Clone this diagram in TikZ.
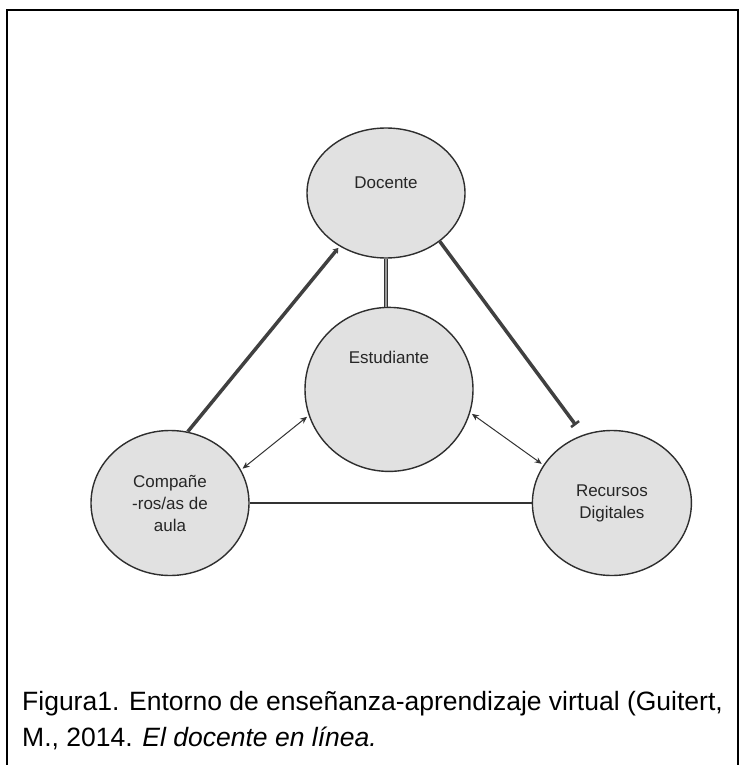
\documentclass[tikz,border=0pt]{standalone}
\usepackage{fontspec}
\setmainfont{Liberation Sans}
\usetikzlibrary{shapes.geometric,arrows.meta,positioning}
\definecolor{circfill}{HTML}{E1E1E1}
\definecolor{circline}{HTML}{2E2E2E}
\tikzset{
  ctbox/.style={ellipse,draw=circline,fill=circfill,line width=1.4pt,
    minimum width=158pt,minimum height=145pt,align=center,
    font=\fontsize{17}{22}\selectfont,text=black!85,inner sep=2pt},
  thickline/.style={line width=3.5pt,draw=black!75},
  dbline/.style={line width=1pt,draw=black!80,double=black!40,double distance=2pt},
  darrow/.style={{Stealth[length=7pt,width=6pt]}-{Stealth[length=7pt,width=6pt]},
    line width=1pt,draw=black!80},
  flatline/.style={line width=1.6pt,draw=black!80},
}

\begin{document}
\begin{tikzpicture}[x=1pt,y=1pt]
  \useasboundingbox (0,0) rectangle (743,-765);

  % frame
  \draw[line width=2pt] (7,-765) -- (7,-10) -- (738,-10) -- (738,-765);

  % circles
  \node[ctbox,minimum height=130pt,text depth=21pt] (doc) at (386,-193) {Docente};
  \node[ctbox,minimum width=168pt,minimum height=164pt,text depth=64pt,
        below=48pt of doc,xshift=3pt] (est) {Estudiante};
  \node[ctbox] (comp) at (170,-503) {Compañe\\-ros/as de\\aula};
  \node[ctbox,minimum width=159pt,right=282pt of comp] (rec) {Recursos\\Digitales};

  % connectors
  \draw[thickline,-{Stealth[length=5pt,width=7pt]},shorten >=2pt] (comp.76) -- (doc.229);
  \draw[thickline,-{Bar[width=10pt,line width=2.5pt]},shorten >=12pt] (doc.318) -- (rec.113);
  \draw[dbline] (doc.south) -- (doc.south |- est.north);
  \draw[darrow,shorten <=2pt,shorten >=2pt] (est.198) -- (comp.25);
  \draw[darrow,shorten <=2pt,shorten >=2pt] (est.344) -- (rec.151);
  \draw[flatline] (comp.east) -- (rec.west);

  % caption
  \node[anchor=north west,align=left,inner sep=0pt,
        font=\fontsize{26.5}{36}\selectfont] (cap) at (22,-691)
    {Figura1. Entorno de enseñanza-aprendizaje virtual (Guitert,\\
     M., 2014. \textit{El docente en línea.}};

\end{tikzpicture}
\end{document}
